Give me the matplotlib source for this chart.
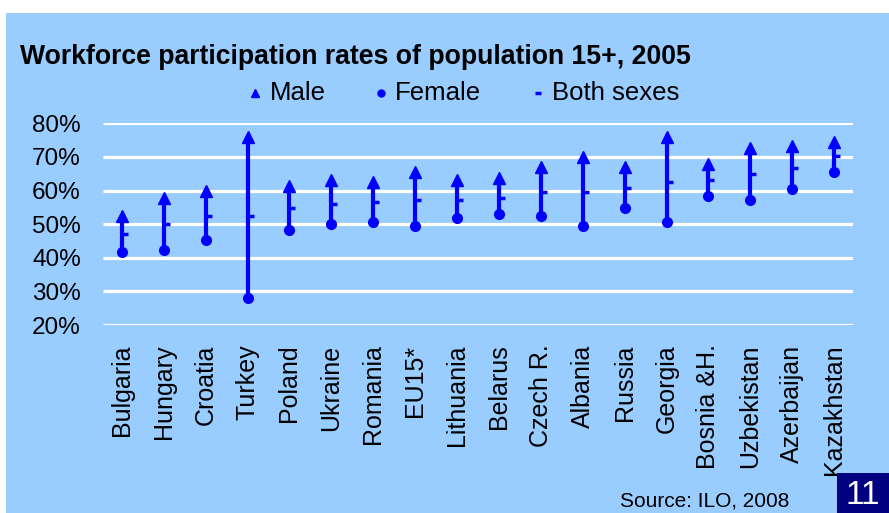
import matplotlib
matplotlib.use("Agg")
import matplotlib.pyplot as plt
from matplotlib.lines import Line2D
from matplotlib.path import Path
from matplotlib.patches import Rectangle

countries = ["Bulgaria", "Hungary", "Croatia", "Turkey", "Poland", "Ukraine", "Romania",
             "EU15*", "Lithuania", "Belarus", "Czech R.", "Albania", "Russia", "Georgia",
             "Bosnia &H.", "Uzbekistan", "Azerbaijan", "Kazakhstan"]
male = [52.5, 57.7, 59.9, 76.0, 61.2, 63.0, 62.4, 65.4, 63.0, 63.7, 67.1, 70.1, 67.1,
        76.0, 67.8, 72.6, 73.1, 74.4]
female = [41.6, 42.3, 45.3, 28.0, 48.2, 50.0, 50.5, 49.4, 51.8, 53.0, 52.4, 49.4, 54.8,
          50.6, 58.3, 57.1, 60.6, 65.4]
both = [47.0, 50.0, 52.4, 52.4, 54.8, 55.9, 56.5, 57.2, 57.2, 57.7, 59.6, 59.6, 60.8,
        62.6, 63.1, 64.8, 66.6, 70.2]
yticks = [20, 30, 40, 50, 60, 70, 80]

plt.rcParams['font.family'] = ['Liberation Sans', 'DejaVu Sans']
W, H = 889, 513
fig = plt.figure(figsize=(W / 100, H / 100), dpi=100, facecolor="white")

BG = "#99CCFF"
BLUE = "#0000FF"
fig.patches.append(Rectangle((6 / W, 0), 1, 1 - 13 / H, transform=fig.transFigure,
                             facecolor=BG, edgecolor="none", zorder=-5))

n = len(countries)
# axes from x=103..853 px, y=123..325 px
ax = fig.add_axes([103 / W, 1 - 325 / H, (853 - 103) / W, (325 - 123.3) / H])
ax.set_zorder(2)
ax.set_facecolor("none")
x = list(range(n))
ax.set_xlim(-0.45, n - 1 + 0.45)
ax.set_ylim(20, 80)
for s in ax.spines.values():
    s.set_visible(False)
for v in yticks:
    ax.axhline(v, color="white", lw=2.3, zorder=1, solid_capstyle="butt")

ax.vlines(x, female, male, color=BLUE, lw=3.0, zorder=3)
ax.plot(x, male, linestyle="none", marker="^", ms=8.5, color=BLUE, zorder=4, clip_on=False)
ax.plot(x, female, linestyle="none", marker="o", ms=7, color=BLUE, zorder=4, clip_on=False)
dash = Path([(0, 0), (1, 0)])
ax.plot(x, both, linestyle="none", marker=dash, ms=8, mew=2.5, color=BLUE, zorder=4,
        clip_on=False)

ax.set_yticks(yticks)
ax.set_yticklabels([f"{v}%" for v in yticks], fontsize=17.5)
ax.set_xticks(x)
ax.set_xticklabels(countries, rotation=90, fontsize=18, va="top", ha="center")
ax.tick_params(axis="both", length=0)
ax.tick_params(axis="y", pad=16)
ax.tick_params(axis="x", pad=14)

fig.text(20 / W, 1 - 57 / H, "Workforce participation rates of population 15+, 2005",
         fontsize=19.2, fontweight="bold", va="center", ha="left")

# legend
ly = 1 - 93 / H
fig.lines.append(Line2D([255 / W], [ly], marker="^", ms=6, color=BLUE,
                        linestyle="none", transform=fig.transFigure))
fig.text(270 / W, ly, "Male", fontsize=18.5, va="center", ha="left")
fig.lines.append(Line2D([381 / W], [ly], marker="o", ms=5, color=BLUE,
                        linestyle="none", transform=fig.transFigure))
fig.text(395 / W, ly, "Female", fontsize=18.5, va="center", ha="left")
fig.lines.append(Line2D([538 / W], [ly], marker="_", ms=5, mew=2.5,
                        color=BLUE, linestyle="none", transform=fig.transFigure))
fig.text(552 / W, ly, "Both sexes", fontsize=18.5, va="center", ha="left")

fig.text(620 / W, 1 - 501 / H, "Source: ILO, 2008", fontsize=15, va="center", ha="left")

fig.patches.append(Rectangle((837 / W, 0), 1, 1 - 473 / H, transform=fig.transFigure,
                             facecolor="#000080", edgecolor="none", zorder=5))
fig.text(863 / W, 1 - 495 / H, "11", fontsize=24, color="white", va="center",
         ha="center", zorder=6)

fig.savefig("out.png", dpi=100, facecolor="white")
